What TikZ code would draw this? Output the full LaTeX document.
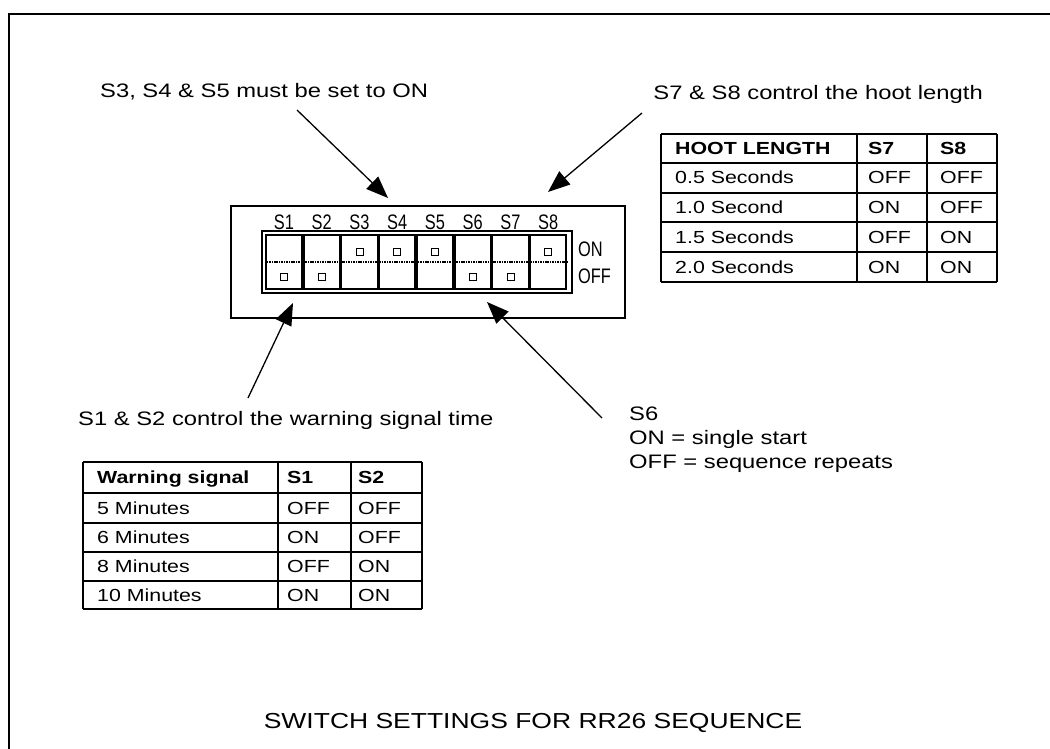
\documentclass[tikz,border=0pt]{standalone}
\usepackage{fontspec}
\setmainfont{Liberation Sans}[FakeStretch=1.22]
\newfontfamily\narrowfont{Liberation Sans}[FakeStretch=0.78]
\usetikzlibrary{arrows.meta, positioning}

\begin{document}
\begin{tikzpicture}[x=1pt,y=-1pt,
  note/.style={inner sep=0pt,anchor=base west,font=\fontsize{19.5}{24}\selectfont},
  cell/.style={inner sep=0pt,anchor=base west,font=\fontsize{17.5}{20}\selectfont},
  head/.style={cell,font=\fontsize{17.5}{20}\selectfont\bfseries},
  swlabel/.style={inner sep=0pt,anchor=base,font=\narrowfont\fontsize{21}{24}\selectfont},
  switch/.style={draw,line width=1.6pt,minimum width=36pt,minimum height=54pt,inner sep=0pt},
  knob/.style={draw,line width=0.8pt,minimum size=7pt,inner sep=0pt},
  pointer/.style={line width=1.3pt,-{Triangle[length=22pt,width=17pt]}},
  tabline/.style={line width=1.8pt}]

  \useasboundingbox[fill=white] (0,0) rectangle (1050,749);
  \draw[line width=1.5pt] (1050,14) -- (9,14) -- (9,749);

  % dip switch block
  \node[draw,line width=2pt,minimum width=394pt,minimum height=112pt,inner sep=0pt] (dipbox) at (428,262) {};
  \node[draw,line width=2pt,minimum width=310pt,minimum height=62pt,inner sep=0pt] (dip) at (417,262) {};
  \foreach \i/\st in {1/0,2/0,3/1,4/1,5/1,6/0,7/0,8/1} {
    \pgfmathsetmacro\xc{284+37.75*(\i-1)}
    \pgfmathsetmacro\yk{277-25*\st}
    \node[switch] (sw\i) at (\xc,262) {};
    \draw[line width=1.2pt,dash pattern=on 1.1pt off 0.6pt] (sw\i.west) -- (sw\i.east);
    \node[knob] (knob\i) at (\xc,\yk) {};
    \node[swlabel] (lbl\i) at (\xc,229.5) {S\i};
  }
  \node[swlabel,anchor=base west] (on) at (578,256.5) {ON};
  \node[swlabel,anchor=base west] (off) at (578,283.5) {OFF};

  % notes
  \node[note] (setnote) at (100,98) {S3, S4 \& S5 must be set to ON};
  \node[note,anchor=base east] (hootnote) at (983,100) {S7 \& S8 control the hoot length};
  \node[note] (warnnote) at (78,425) {S1 \& S2 control the warning signal time};
  \node[note] (s6note) at (629,420) {S6};
  \node[note] (s6on) at (629,444) {ON = single start};
  \node[note] (s6off) at (629,468) {OFF = sequence repeats};

  \coordinate (a1) at (297,110); \coordinate (t1) at (388,198);
  \coordinate (a2) at (642,113); \coordinate (t2) at (548,192);
  \coordinate (a3) at (248,398); \coordinate (t3) at (293,303);
  \coordinate (a4) at (602,418); \coordinate (t4) at (487,302);
  \foreach \n in {1,...,4}
    \draw[pointer] (a\n) -- (t\n);

  % hoot length table
  \foreach \y in {134,163,193,222,252,282}
    \draw[tabline] (661,\y) -- (997,\y);
  \foreach \x in {661,857,927,997}
    \draw[tabline] (\x,134) -- (\x,282);
  \node[head] (hoothead) at (675,154.5) {HOOT LENGTH};
  \node[head] (hoots7) at (868,154.5) {S7};
  \node[head] (hoots8) at (940,154.5) {S8};
  \foreach \r/\t/\a/\b/\y in {1/0.5 Seconds/OFF/OFF/184, 2/1.0 Second/ON/OFF/213.5,
      3/1.5 Seconds/OFF/ON/243, 4/2.0 Seconds/ON/ON/273} {
    \node[cell] (hoot\r) at (675,\y) {\t};
    \node[cell] (hoot\r a) at (868,\y) {\a};
    \node[cell] (hoot\r b) at (940,\y) {\b};
  }

  % warning signal table
  \foreach \y in {462,493,523,552,581,609}
    \draw[tabline] (83,\y) -- (422,\y);
  \foreach \x in {83,278,351,422}
    \draw[tabline] (\x,462) -- (\x,609);
  \node[head] (warnhead) at (97,483.5) {Warning signal};
  \node[head] (warns1) at (287,483.5) {S1};
  \node[head] (warns2) at (358,483.5) {S2};
  \foreach \r/\t/\a/\b/\y in {1/5 Minutes/OFF/OFF/514, 2/6 Minutes/ON/OFF/543.5,
      3/8 Minutes/OFF/ON/572.5, 4/10 Minutes/ON/ON/601} {
    \node[cell] (warn\r) at (97,\y) {\t};
    \node[cell] (warn\r a) at (287,\y) {\a};
    \node[cell] (warn\r b) at (358,\y) {\b};
  }

  \node[inner sep=0pt,anchor=base,font=\fontsize{21.7}{26}\selectfont] (title) at (533,728) {SWITCH SETTINGS FOR RR26 SEQUENCE};

\end{tikzpicture}
\end{document}
